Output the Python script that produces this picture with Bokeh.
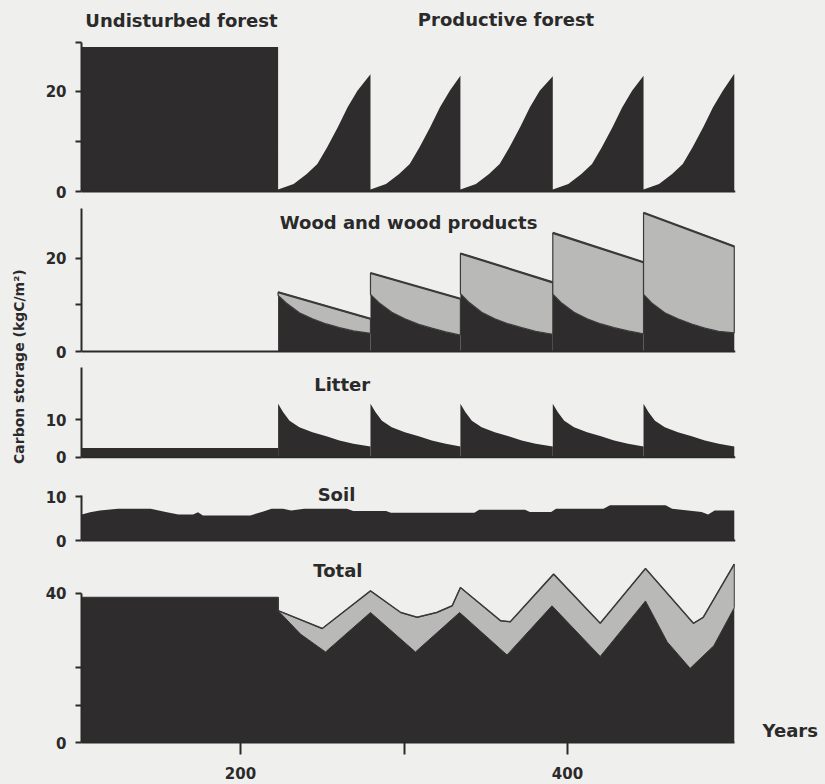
import math
from bokeh.plotting import figure
from bokeh.models import Range1d, FixedTicker, Span, Label
from bokeh.layouts import row, column
from bokeh.embed import file_html
from bokeh.resources import INLINE

# ---------------- data ----------------
# Panel 1: forest (undisturbed, then productive rotations)
forest_years = [103, 223, 223, 232.5, 240.5, 247, 253, 259.5, 265.5, 271.5, 279.5,
                279.5, 289, 297, 303.5, 309.5, 316, 322, 328, 334.5,
                334.5, 344, 352, 358.5, 364.5, 371, 377, 383, 391,
                391, 400.5, 408.5, 415, 421, 427.5, 433.5, 439.5, 446.5,
                446.5, 456, 464, 470.5, 476.5, 483, 489, 495, 502]
forest_vals = [28.8, 28.8, 0.4, 1.5, 3.5, 5.5, 8.8, 12.8, 16.8, 20.1, 23.4,
               0.4, 1.5, 3.5, 5.5, 8.8, 12.8, 16.8, 20.1, 23.1,
               0.4, 1.5, 3.5, 5.5, 8.8, 12.8, 16.8, 20.1, 23.0,
               0.4, 1.5, 3.5, 5.5, 8.8, 12.8, 16.8, 20.1, 23.1,
               0.4, 1.5, 3.5, 5.5, 8.8, 12.8, 16.8, 20.1, 23.5]

# Panel 2: wood (dark) and wood products (light), per rotation
wood_dark_years = [[223, 228, 236, 244, 252.5, 260.5, 269, 279.5],
                   [279.5, 284.5, 292.5, 300.5, 309, 317, 325.5, 334.5],
                   [334.5, 339.5, 347.5, 355.5, 364, 372, 380.5, 391],
                   [391, 396, 404, 412, 420.5, 428.5, 437, 446.5],
                   [446.5, 451.5, 459.5, 467.5, 476, 484, 492.5, 502]]
wood_dark_vals = [[12.0, 10.4, 8.3, 7.0, 5.9, 5.1, 4.4, 3.9],
                  [12.2, 10.5, 8.4, 7.0, 5.8, 5.0, 4.2, 3.5],
                  [12.4, 10.6, 8.4, 7.0, 5.9, 5.1, 4.3, 3.7],
                  [12.3, 10.5, 8.4, 7.0, 5.9, 5.1, 4.4, 3.8],
                  [12.2, 10.4, 8.3, 7.0, 5.9, 5.0, 4.3, 4.0]]
wood_top_years = [[223, 279.5], [279.5, 334.5], [334.5, 391], [391, 446.5], [446.5, 502]]
wood_top_vals = [[12.7, 7.0], [16.8, 11.3], [21.0, 14.8], [25.4, 19.1], [29.7, 22.5]]

# Panel 3: litter
litter_pre_years = [103, 223]
litter_pre_vals = [2.5, 2.5]
litter_years = [[223, 226, 230, 236, 244, 252.5, 260.5, 269, 279.5],
                [279.5, 282.5, 286.5, 292.5, 300.5, 309, 317, 325.5, 334.5],
                [334.5, 337.5, 341.5, 347.5, 355.5, 364, 372, 380.5, 391],
                [391, 394, 398, 404, 412, 420.5, 428.5, 437, 446.5],
                [446.5, 449.5, 453.5, 459.5, 467.5, 476, 484, 492.5, 502]]
litter_vals = [[14.3, 12.1, 9.8, 8.0, 6.7, 5.6, 4.5, 3.6, 2.9],
               [14.3, 12.1, 9.8, 8.0, 6.7, 5.6, 4.5, 3.6, 2.9],
               [14.3, 12.1, 9.8, 8.0, 6.7, 5.6, 4.5, 3.6, 2.9],
               [14.3, 12.1, 9.8, 8.0, 6.7, 5.6, 4.5, 3.6, 2.9],
               [14.3, 12.1, 9.8, 8.0, 6.7, 5.6, 4.5, 3.6, 2.9]]

# Panel 4: soil
soil_years = [103, 108, 114, 125, 145, 155, 162, 171, 174, 177, 206, 214, 219, 226, 231,
              239, 265, 269, 289, 292, 343, 346, 374, 377, 390, 393, 422, 426, 460, 464,
              482, 486, 490, 502]
soil_vals = [5.9, 6.4, 6.8, 7.2, 7.2, 6.4, 5.9, 5.9, 6.4, 5.7, 5.7, 6.6, 7.2, 7.2, 6.8,
             7.2, 7.2, 6.7, 6.7, 6.3, 6.3, 7.0, 7.0, 6.5, 6.5, 7.2, 7.2, 8.0, 8.0, 7.2,
             6.5, 5.9, 6.8, 6.8]

# Panel 5: total (with products = light top, without products = dark)
total_top_years = [103, 223, 223, 250, 279.5, 298, 308, 320, 329.5, 334.5, 359, 365,
                   391.5, 420, 447.7, 477, 483, 502]
total_top_vals = [38.9, 38.9, 35.4, 30.6, 40.7, 34.9, 33.6, 34.9, 36.7, 41.6, 32.7, 32.4,
                  45.2, 32.0, 46.7, 32.0, 33.6, 47.9]
total_dark_years = [103, 223, 223, 236.7, 252, 279.5, 307, 334, 363, 390.5, 420, 447.7,
                    461, 475, 489.5, 502]
total_dark_vals = [38.9, 38.9, 35.4, 29.1, 24.3, 34.9, 24.3, 34.9, 23.5, 36.7, 23.1, 38.0,
                   27.0, 19.9, 26.0, 36.2]

x_major_ticks = [200, 400]
x_minor_ticks = [300]

# ---------------- style ----------------
BG = "#efefed"
DARK = "#2e2c2c"
LIGHT = "#b9b9b7"
INK = "#2a2a2a"
EDGE = "#3a3a3a"
FONT = "DejaVu Sans"

X0, X1 = 102.75, 502.75
xr = Range1d(X0, X1)


def style_yaxis(p, major, minor, top):
    ax = p.yaxis[0]
    ax.ticker = FixedTicker(ticks=major, minor_ticks=minor)
    ax.bounds = (0, top)
    ax.axis_line_width = 2
    ax.axis_line_color = INK
    ax.major_tick_out = 6
    ax.major_tick_in = 0
    ax.minor_tick_out = 6
    ax.minor_tick_in = 0
    ax.major_tick_line_width = 2
    ax.minor_tick_line_width = 2
    ax.major_tick_line_color = INK
    ax.minor_tick_line_color = INK
    ax.major_label_standoff = 9
    ax.major_label_text_font = FONT
    ax.major_label_text_font_style = "bold"
    ax.major_label_text_font_size = "15px"
    ax.major_label_text_color = INK


def make_panel(ymin, ymax, frame_h, major, minor, top):
    p = figure(frame_width=654, frame_height=frame_h, x_range=xr,
               y_range=Range1d(ymin, ymax), output_backend="svg",
               toolbar_location=None, title=None, x_axis_location=None,
               min_border_left=45, min_border_right=90, min_border_top=0,
               min_border_bottom=0,
               background_fill_color=BG, border_fill_color=BG,
               outline_line_color=None)
    p.grid.visible = False
    style_yaxis(p, major, minor, top)
    p.add_layout(Span(location=0, dimension="width", line_color=INK, line_width=2))
    return p


def title_label(p, x, y, text):
    p.add_layout(Label(x=x, y=y, text=text, text_align="center", text_baseline="middle",
                       text_font=FONT, text_font_style="bold", text_font_size="18px",
                       text_color=INK))


# Panel 1
p1 = make_panel(-2.393, 38.09, 203, [0, 20], [10, 29.7], 29.7)
p1.varea(x=forest_years, y1=0, y2=forest_vals, fill_color=DARK)
title_label(p1, 163.9, 34.1, "Undisturbed forest")
title_label(p1, 362.4, 34.3, "Productive forest")

# Panel 2
p2 = make_panel(-2.355, 31.69, 159, [0, 20], [10], 30.7)
for yrs, vals in zip(wood_dark_years, wood_dark_vals):
    p2.varea(x=yrs, y1=0, y2=vals, fill_color=DARK)
for ty, tv, dy, dv in zip(wood_top_years, wood_top_vals, wood_dark_years, wood_dark_vals):
    p2.patch(x=ty + dy[::-1], y=tv + dv[::-1], fill_color=LIGHT,
             line_color=EDGE, line_width=1.2)
    p2.line(x=ty, y=tv, line_color=EDGE, line_width=2.2)
title_label(p2, 302.8, 27.6, "Wood and wood products")

# Panel 3
p3 = make_panel(-4.638, 25.39, 112, [0, 10], [], 24)
p3.varea(x=litter_pre_years, y1=0, y2=litter_pre_vals, fill_color=DARK)
for yrs, vals in zip(litter_years, litter_vals):
    p3.varea(x=yrs, y1=0, y2=vals, fill_color=DARK)
title_label(p3, 262.2, 19.6, "Litter")

# Panel 4
p4 = make_panel(-3.409, 15.0, 81, [0, 10], [], 10.2)
p4.varea(x=soil_years, y1=0, y2=soil_vals, fill_color=DARK)
title_label(p4, 258.7, 10.45, "Soil")

# Panel 5 (wider frame on the right so that "Years" can sit inside it)
p5 = figure(frame_width=744, frame_height=187, x_range=Range1d(X0, X0 + 744 / 1.635),
            y_range=Range1d(0, 50.2), output_backend="svg", toolbar_location=None,
            title=None, min_border_left=45, min_border_right=0, min_border_top=0,
            min_border_bottom=42, background_fill_color=BG, border_fill_color=BG,
            outline_line_color=None)
p5.grid.visible = False
style_yaxis(p5, [0, 40], [10, 20], 40)
p5.patch(x=total_top_years + total_dark_years[::-1], y=total_top_vals + total_dark_vals[::-1],
         fill_color=LIGHT, line_color=EDGE, line_width=1)
p5.varea(x=total_dark_years, y1=0, y2=total_dark_vals, fill_color=DARK)
p5.line(x=total_top_years, y=total_top_vals, line_color=EDGE, line_width=1.5)
title_label(p5, 259.6, 46.2, "Total")
xa = p5.xaxis[0]
xa.ticker = FixedTicker(ticks=x_major_ticks, minor_ticks=x_minor_ticks)
xa.bounds = (X0, 502)
xa.axis_line_width = 2
xa.axis_line_color = INK
xa.major_tick_out = 12
xa.major_tick_in = 0
xa.minor_tick_out = 12
xa.minor_tick_in = 0
xa.major_tick_line_width = 2
xa.minor_tick_line_width = 2
xa.major_tick_line_color = INK
xa.minor_tick_line_color = INK
xa.major_label_standoff = 12
xa.major_label_text_font = FONT
xa.major_label_text_font_style = "bold"
xa.major_label_text_font_size = "15px"
xa.major_label_text_color = INK
p5.add_layout(Label(x=519.3, y=0.3, text="Years", text_align="left", text_baseline="bottom",
                    text_font=FONT, text_font_style="bold", text_font_size="18px",
                    text_color=INK))

# y axis title strip
ylab = figure(width=36, height=784, x_range=Range1d(0, 1), y_range=Range1d(0, 1),
              output_backend="svg", toolbar_location=None, title=None,
              x_axis_location=None, y_axis_location=None,
              min_border=0, background_fill_color=BG, border_fill_color=BG,
              outline_line_color=None)
ylab.grid.visible = False
ylab.add_layout(Label(x=0.5, y=0.533, text="Carbon storage (kgC/m²)", angle=math.pi / 2,
                      text_align="center", text_baseline="middle", text_font=FONT,
                      text_font_style="bold", text_font_size="14px", text_color=INK))

panels = column(p1, p2, p3, p4, p5, spacing=0, styles={"background-color": BG})
layout = row(ylab, panels, spacing=0, styles={"background-color": BG})
open("out.html", "w").write(file_html(layout, INLINE))
